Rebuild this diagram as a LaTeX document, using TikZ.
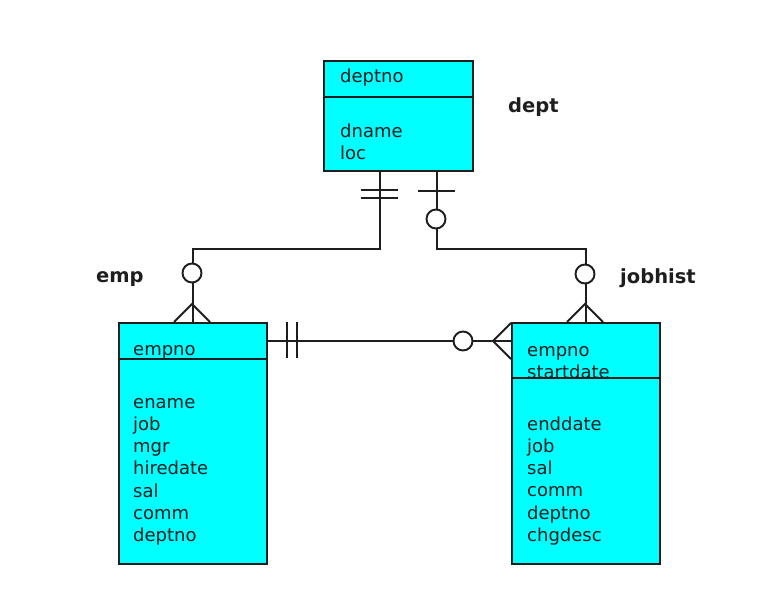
\documentclass[tikz,border=0pt]{standalone}
\usepackage{fontspec}
\setmainfont{DejaVu Sans}
\usepackage{xcolor}
\usetikzlibrary{positioning}
\definecolor{tablecyan}{RGB}{0,255,255}
\definecolor{inkgray}{RGB}{30,30,30}

\begin{document}
\begin{tikzpicture}[x=1pt, y=-1pt,
    entity/.style={draw=inkgray, line width=1.9pt, rectangle, fill=tablecyan, anchor=north west, inner sep=0pt},
    attr/.style={inner sep=0pt, align=left, text=inkgray, font=\fontsize{18}{22.2}\selectfont},
    ename/.style={inner sep=0pt, anchor=base west, text=inkgray, font=\fontsize{19.5}{24}\selectfont\bfseries},
    rel/.style={draw=inkgray, line width=1.9pt},
    opt/.style={circle, draw=inkgray, line width=1.9pt, fill=white, minimum size=19pt, inner sep=0pt}]
    \useasboundingbox (0,0) rectangle (773,604);

    % tables
    \node[entity, minimum width=149pt, minimum height=110pt] (dept) at (323,60) {};
    \node[entity, minimum width=148pt, minimum height=241pt] (emp) at (118,322) {};
    \node[entity, minimum width=148pt, minimum height=241pt] (jobhist) at (511,322) {};

    % columns
    \node[attr, anchor=base west] (deptkey) at (340,83) {deptno};
    \node[attr, anchor=north west] (deptcols) at (340,121.5) {\strut dname\\loc};
    \node[attr, anchor=base west] (empkey) at (133,355) {empno};
    \node[attr, anchor=north west] (empcols) at (133,392.5) {\strut ename\\job\\mgr\\hiredate\\sal\\comm\\deptno};
    \node[attr, anchor=north west] (jobkey) at (527,340.5) {\strut empno\\startdate};
    \node[attr, anchor=north west] (jobcols) at (527,414.5) {\strut enddate\\job\\sal\\comm\\deptno\\chgdesc};

    \draw[rel] (dept.west |- 0,97) -- (dept.east |- 0,97);
    \draw[rel] (emp.west |- 0,359) -- (emp.east |- 0,359);
    \draw[rel] (jobhist.west |- 0,378) -- (jobhist.east |- 0,378);

    % names
    \node[ename] (deptname) at (508,113) {dept};
    \node[ename] (empname) at (96,282) {emp};
    \node[ename] (jobname) at (620,283) {jobhist};

    % relationships
    \draw[rel] ([xshift=-18.5pt]dept.south) -- ++(0,77) -| (emp.north);
    \draw[rel] ([xshift=38.5pt]dept.south) -- ++(0,77) -| (jobhist.north);
    \draw[rel] ([yshift=-19pt]emp.north east) -- ([yshift=-19pt]jobhist.north west);

    % one / one-and-only-one bars
    \draw[rel] (360.5,190) -- ++(37,0);
    \draw[rel] (360.5,198) -- ++(37,0);
    \draw[rel] (417.5,191) -- ++(37,0);
    \draw[rel] (287,322) -- ++(0,36);
    \draw[rel] (297,322) -- ++(0,36);

    % crow's feet
    \draw[rel] (174,322) -- (192,304) -- (210,322);
    \draw[rel] (567,322) -- (585,304) -- (603,322);
    \draw[rel] (511,323) -- (493,341) -- (511,359);

    % optional circles
    \node[opt] (o1) at (436,219) {};
    \node[opt] (o2) at (192,273) {};
    \node[opt] (o3) at (585,274) {};
    \node[opt] (o4) at (463,341) {};
\end{tikzpicture}
\end{document}
